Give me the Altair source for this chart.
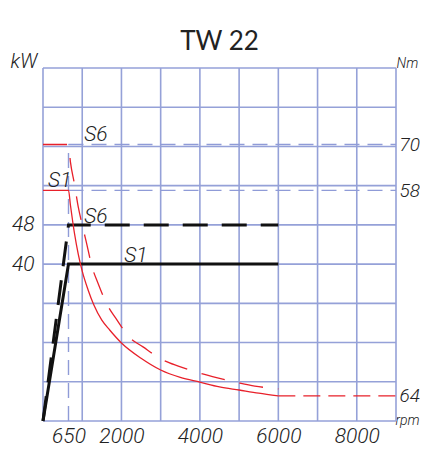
import altair as alt
import pandas as pd

# ---------------- data ----------------
title_text = "TW 22"

rpm_grid = [0, 1000, 2000, 3000, 4000, 5000, 6000, 7000, 8000, 9000]
nm_grid = [0, 100, 200, 300, 400, 500, 600, 700, 800, 900]

x_ticks = [650, 2000, 4000, 6000, 8000]
kw_ticks = [40, 48]
nm_ticks = [64, 588, 705]
nm_tick_text = ["64", "58", "70"]   # as visible (right edge of the sheet is cut)

base_rpm = 650          # dashed reference speed
s1_nm_max = 588
s6_nm_max = 705
tail_rpm = [6000, 9000]
tail_nm = [64, 64]

# torque curves (Nm) vs speed (rpm)
s1_rpm = [0, 650, 700, 800, 900, 1000, 1150, 1300, 1500, 1700, 2000, 2500,
          3000, 3500, 4000, 4500, 5000, 5500, 6000]
s1_nm = [588, 588, 550, 480, 425, 382, 334, 295, 257, 232, 199, 160,
         130, 111, 99, 87, 79, 71, 64]
s6_rpm = [0, 650, 700, 800, 900, 1000, 1100, 1250, 1400, 1650, 1850, 2200,
          2550, 3050, 3450, 4000, 4450, 5000, 5400, 6000]
s6_nm = [705, 705, 660, 605, 545, 500, 458, 393, 352, 294, 263, 214,
         189, 156, 140, 122, 110, 97, 89, 82]

# power curves (kW) vs speed (rpm)
p_rpm = [0, 650, 6000]
p_s1_kw = [0, 40, 40]
p_s6_kw = [0, 48, 48]

# ---------------- tables ----------------
grid_x = pd.DataFrame({"rpm": rpm_grid})
grid_y = pd.DataFrame({"nm": nm_grid})
ref_v = pd.DataFrame({"rpm": [base_rpm], "nm0": [0], "nm1": [s6_nm_max]})
ref_h = pd.DataFrame({"nm": [s6_nm_max, s1_nm_max],
                      "r0": [base_rpm, base_rpm], "r1": [9000, 9000]})
red_s1 = pd.DataFrame({"rpm": s1_rpm, "nm": s1_nm})
red_s6 = pd.DataFrame({"rpm": s6_rpm, "nm": s6_nm})
red_tail = pd.DataFrame({"rpm": tail_rpm, "nm": tail_nm})
pw_s1 = pd.DataFrame({"rpm": p_rpm, "kw": p_s1_kw})
pw_s6 = pd.DataFrame({"rpm": p_rpm, "kw": p_s6_kw})
lab_nm = pd.DataFrame({"rpm": [1050, 130], "nm": [s6_nm_max, s1_nm_max],
                       "t": ["S6", "S1"]})
lab_kw = pd.DataFrame({"rpm": [1050, 2070], "kw": [48, 40], "t": ["S6", "S1"]})

nm_label_expr = "{" + ", ".join(
    f"'{v}': '{t}'" for v, t in zip(nm_ticks, nm_tick_text)) + "}[datum.value]"

# ---------------- styling ----------------
FONT = "Roboto"
GRID = "#95a1d8"
DASHBLUE = "#8f9bd7"
RED = "#e8202a"
INK = "#222222"
W = H = 353

xs = alt.Scale(domain=[0, 9000], nice=False)
x_axis = alt.Axis(values=x_ticks, format="d", grid=False, domain=False, ticks=False,
                  labelPadding=4, labelOverlap=False, labelFlush=False,
                  title="rpm", titleX=352, titleY=3, titleAlign="left",
                  titleBaseline="alphabetic", titleAngle=0, titleFontSize=14)

nm_scale = alt.Scale(domain=[0, 900], nice=False)
nm_axis = alt.Axis(orient="right", values=nm_ticks, labelExpr=nm_label_expr,
                   grid=False, domain=False, ticks=False, labelPadding=3,
                   labelAlign="left", labelBaseline="middle", labelFontSize=19,
                   title="Nm", titleAngle=0, titleX=0, titleY=-1,
                   titleAlign="left", titleBaseline="alphabetic", titleFontSize=14)
kw_scale = alt.Scale(domain=[0, 40, 48, 80],
                     range=[H, H - 4 * H / 9, H - 5 * H / 9, 0])
kw_axis = alt.Axis(orient="left", values=kw_ticks, grid=False, domain=False,
                   ticks=False, labelPadding=9, labelBaseline="middle",
                   title="kW", titleAngle=0, titleX=-33, titleY=-1,
                   titleAlign="left", titleBaseline="alphabetic")


def X(f):
    return alt.X(f, type="quantitative", scale=xs, axis=x_axis)


def YN(f, ax=nm_axis):
    return alt.Y(f, type="quantitative", scale=nm_scale, axis=ax)


def YK(f):
    return alt.Y(f, type="quantitative", scale=kw_scale, axis=kw_axis)


# group 1: grid & blue dashed references (torque scale, right axis)
g_vert = alt.Chart(grid_x).mark_rule(color=GRID, strokeWidth=1.6).encode(x=X("rpm"))
g_hor = alt.Chart(grid_y).mark_rule(color=GRID, strokeWidth=1.6).encode(y=YN("nm"))
r_v = alt.Chart(ref_v).mark_rule(color=DASHBLUE, strokeWidth=1.4, strokeDash=[15, 8]).encode(
    x=X("rpm"), y=YN("nm0"), y2="nm1")
r_h = alt.Chart(ref_h).mark_rule(color=DASHBLUE, strokeWidth=1.4, strokeDash=[15, 8]).encode(
    x=X("r0"), x2="r1", y=YN("nm"))
group1 = alt.layer(g_vert, g_hor, r_v, r_h)

# group 2: power lines (kW scale, left axis)
b_s1 = alt.Chart(pw_s1).mark_line(color="#111111", strokeWidth=3).encode(
    x=X("rpm"), y=YK("kw"))
b_s6 = alt.Chart(pw_s6).mark_line(color="#111111", strokeWidth=3, strokeDash=[25, 14]).encode(
    x=X("rpm"), y=YK("kw"))
t_kw = alt.Chart(lab_kw).mark_text(font=FONT, fontSize=21, fontStyle="italic", fontWeight=300,
                                   color=INK, align="left", baseline="alphabetic", dy=-2).encode(
    x=X("rpm"), y=YK("kw"), text="t:N")
group2 = alt.layer(b_s1, b_s6, t_kw)

# group 3: torque curves (torque scale, no axis)
red1 = alt.Chart(red_s1).mark_line(color=RED, strokeWidth=1.3, interpolate="monotone").encode(
    x=X("rpm"), y=YN("nm", None))
red6 = alt.Chart(red_s6).mark_line(color=RED, strokeWidth=1.3, interpolate="monotone",
                                   strokeDash=[24, 15]).encode(x=X("rpm"), y=YN("nm", None))
redt = alt.Chart(red_tail).mark_line(color=RED, strokeWidth=1.3, strokeDash=[17, 8]).encode(
    x=X("rpm"), y=YN("nm", None))
t_nm = alt.Chart(lab_nm).mark_text(font=FONT, fontSize=21, fontStyle="italic", fontWeight=300,
                                   color=INK, align="left", baseline="alphabetic", dy=-3).encode(
    x=X("rpm"), y=YN("nm", None), text="t:N")
group3 = alt.layer(red1, red6, redt, t_nm)

chart = alt.layer(group1, group2, group3).resolve_scale(y="independent").properties(
    width=W, height=H, autosize="none",
    padding={"left": 35, "top": 60, "right": 24, "bottom": 27},
    title=alt.TitleParams(title_text, font="Lato", fontSize=26, fontWeight="normal",
                          color=INK, anchor="middle", offset=-4),
).configure_axis(
    labelFont=FONT, labelFontSize=21, labelFontStyle="italic", labelFontWeight=300,
    labelColor=INK,
    titleFont=FONT, titleFontSize=20, titleFontStyle="italic", titleFontWeight=300,
    titleColor=INK,
).configure_view(stroke=None)

chart.save("out.html", embed_options={"renderer": "svg", "actions": False})
